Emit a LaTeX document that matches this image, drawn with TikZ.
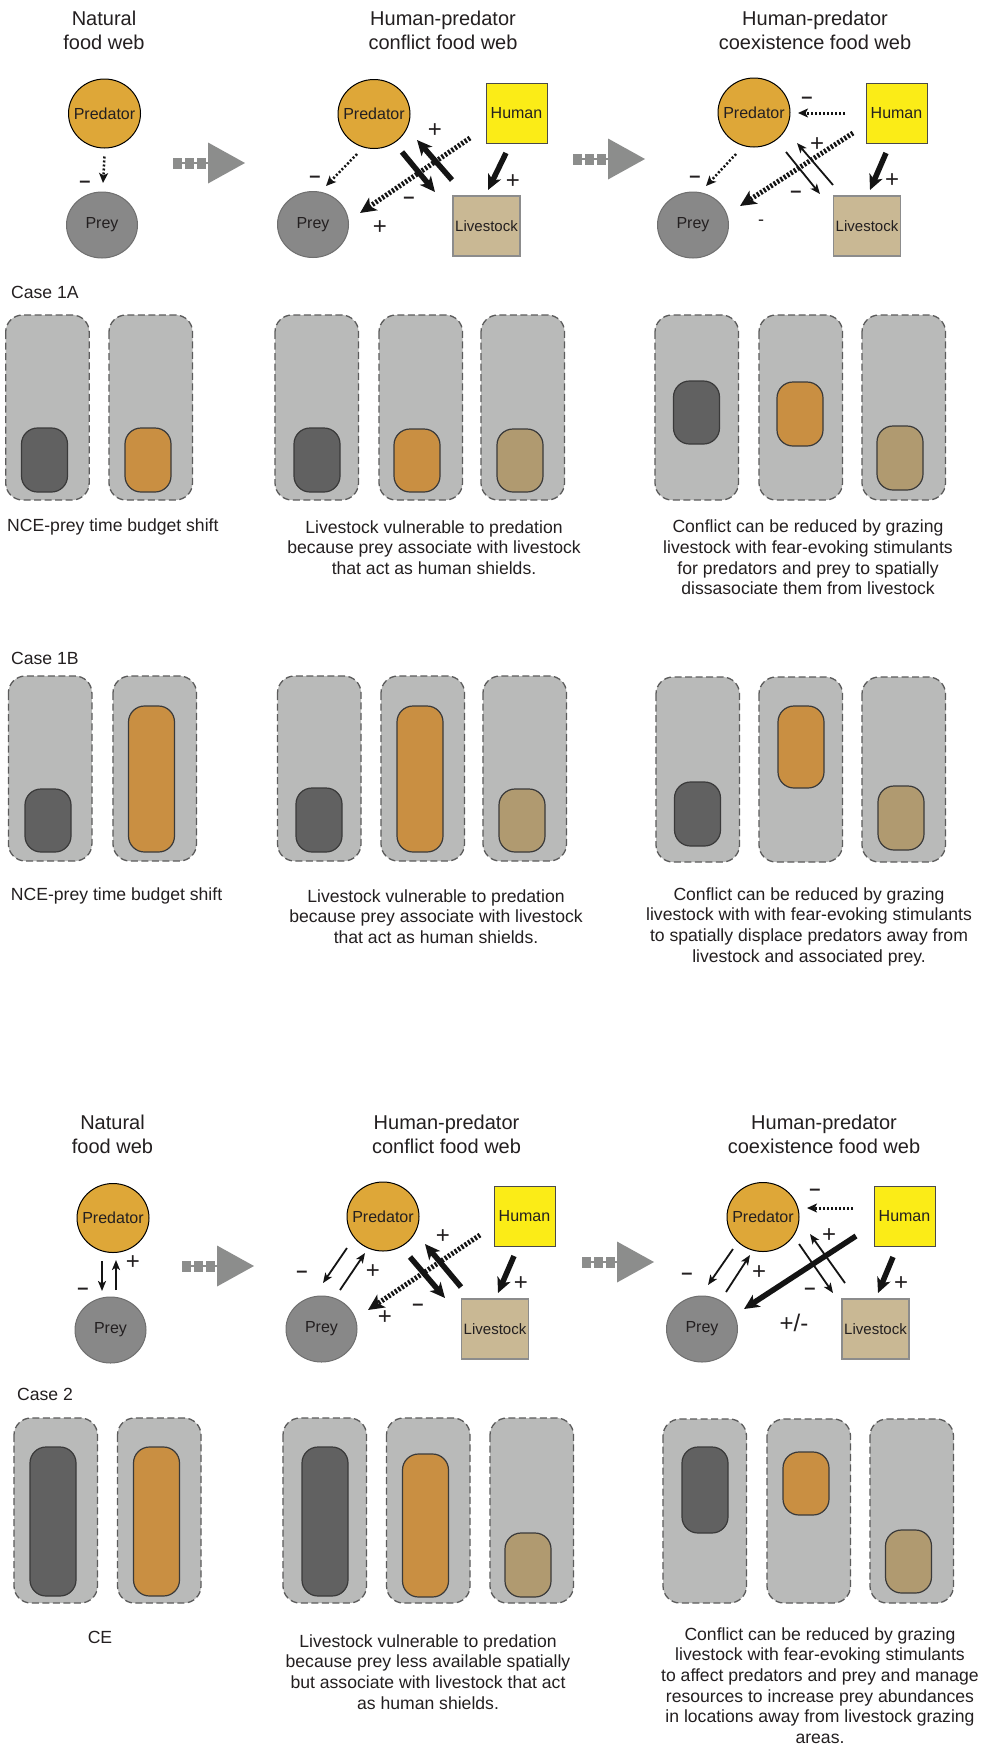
\documentclass[tikz,border=0pt]{standalone}
\usepackage{fontspec}
\setmainfont{Liberation Sans}
\usetikzlibrary{arrows.meta,shapes.geometric}
\definecolor{predc}{HTML}{DEA738}
\definecolor{preyc}{HTML}{888888}
\definecolor{preyb}{HTML}{6F6F6F}
\definecolor{humc}{HTML}{FBEC17}
\definecolor{humb}{HTML}{4A4A4A}
\definecolor{livec}{HTML}{C9B894}
\definecolor{liveb}{HTML}{8C8C8C}
\definecolor{transc}{HTML}{8C8D8C}
\definecolor{panelc}{HTML}{B9BAB9}
\definecolor{panelb}{HTML}{5C5C5C}
\definecolor{darkc}{HTML}{616161}
\definecolor{orc}{HTML}{C98F42}
\definecolor{tanc}{HTML}{B09A70}
\definecolor{barb}{HTML}{3A3A3A}
\definecolor{txtc}{HTML}{231F20}
\definecolor{arrc}{HTML}{141414}
\newcommand\pnl[3]{\path[panelsty] (#1,#2) rectangle (#1+83.5,#3);}
\newcommand\bardraw[4]{\path[barsty,fill=#4] (#1,#2) rectangle (#1+46,#3);}
\newcommand\transarrow[2]{%
  \fill[transc] (#1+35,#2-20.5) -- (#1+72,#2) -- (#1+35,#2+20.5) -- cycle;
  \draw[transc, line width=1.2pt] (#1,#2) -- (#1+35,#2);
  \draw[transc, line width=11pt, dash pattern=on 9pt off 3pt] (#1,#2) -- (#1+33,#2);}
\begin{document}
\begin{tikzpicture}[x=1pt,y=-1pt,
  every node/.style={text=txtc},
  prednode/.style={ellipse, draw=black, line width=1pt, fill=predc, minimum width=72pt, minimum height=69pt, inner xsep=-14pt, inner ysep=0pt, font=\fontsize{16}{19}\selectfont},
  preynode/.style={ellipse, draw=preyb, line width=1pt, fill=preyc, minimum width=71pt, minimum height=66pt, inner xsep=-4pt, inner ysep=0pt, font=\fontsize{16}{19}\selectfont},
  humnode/.style={rectangle, draw=humb, line width=1pt, fill=humc, minimum width=61pt, minimum height=60pt, inner sep=0pt, font=\fontsize{16}{19}\selectfont},
  livenode/.style={rectangle, draw=liveb, line width=1.2pt, fill=livec, minimum width=67pt, minimum height=60pt, inner sep=0pt, font=\fontsize{15}{18}\selectfont},
  title/.style={align=center, inner sep=0pt, font=\fontsize{20}{24}\selectfont},
  body/.style={align=center, inner sep=0pt, font=\fontsize{17.6}{20.7}\selectfont},
  lbl/.style={inner sep=0pt, font=\fontsize{17.6}{20.7}\selectfont},
  sgn/.style={inner sep=0pt, font=\fontsize{24}{26}\selectfont},
  msgn/.style={inner sep=0pt, font=\bfseries\fontsize{20}{22}\selectfont},
  thk/.style={draw=arrc, line width=5.5pt, -{Stealth[length=15pt,width=14pt,inset=4pt]}},
  thn/.style={draw=arrc, line width=1.8pt, -{Stealth[length=10pt,width=8pt,inset=2.5pt]}},
  dotthn/.style={draw=arrc, line width=2.5pt, dash pattern=on 2pt off 2pt, -{Stealth[length=10pt,width=9pt,inset=2.5pt]}},
  dotthk/.style={draw=arrc, line width=5pt, dash pattern=on 2.2pt off 1.8pt, -{Stealth[length=16pt,width=15pt,inset=4pt]}},
  panelsty/.style={fill=panelc, draw=panelb, line width=1.3pt, dash pattern=on 7pt off 3.5pt, rounded corners=17pt},
  barsty/.style={draw=barb, line width=1.2pt, rounded corners=16pt}
]
\useasboundingbox (0,0) rectangle (992,1748);
\fill[white] (0,0) rectangle (992,1748);

% ===== Top food webs =====
\node[title] (t1) at (104,30) {Natural\\food web};
\node[title] (t2) at (443,30) {Human-predator\\conflict food web};
\node[title] (t3) at (815,30) {Human-predator\\coexistence food web};

\node[prednode] (pred1) at (104.5,113.5) {Predator};
\node[preynode] (prey1) at (102,225) {Prey};
\draw[dotthn] ([shift={(0,43)}]pred1.center) -- ([shift={(1,-42)}]prey1.center);
\node[msgn] (s1) at (85,184) {–};

\transarrow{173}{163}

\node[prednode] (pred2) at (374,114) {Predator};
\node[humnode] (human2) at (516.5,113) {Human};
\node[livenode] (live2) at (486.5,226) {Livestock};
\node[preynode] (prey2) at (313,224.5) {Prey};
\draw[dotthn] ([shift={(-17,40)}]pred2.center) -- ([shift={(13,-38.5)}]prey2.center);
\draw[thk] ([shift={(28,38)}]pred2.center) -- ([shift={(-51.5,-34)}]live2.center);
\draw[thk] ([shift={(-34.5,-46)}]live2.center) -- ([shift={(43,26)}]pred2.center);
\draw[dotthk] ([shift={(-46.5,25)}]human2.center) -- ([shift={(47,-11.5)}]prey2.center);
\draw[thk] ([shift={(-10.5,40)}]human2.center) -- ([shift={(1.5,-36)}]live2.center);
\node[msgn] (s2) at (315,179) {–};
\node[msgn] (s3) at (409,200) {–};
\node[sgn] (s4) at (435,131) {+};
\node[sgn] (s5) at (380,228) {+};
\node[sgn] (s6) at (513,182) {+};

\transarrow{573}{159}

\node[prednode] (pred3) at (754,112.5) {Predator};
\node[humnode] (human3) at (896.5,113) {Human};
\node[livenode] (live3) at (867,226) {Livestock};
\node[preynode] (prey3) at (693,225) {Prey};
\draw[dotthn, line width=3pt] ([shift={(-51.5,0)}]human3.center) -- ([shift={(44,0.5)}]pred3.center);
\draw[dotthn] ([shift={(-18,41.5)}]pred3.center) -- ([shift={(13,-39)}]prey3.center);
\draw[thn] ([shift={(32,39.5)}]pred3.center) -- ([shift={(-47,-32)}]live3.center);
\draw[thn] ([shift={(-34,-41)}]live3.center) -- ([shift={(43,30.5)}]pred3.center);
\draw[dotthk] ([shift={(-43.5,20)}]human3.center) -- ([shift={(47,-19)}]prey3.center);
\draw[thk] ([shift={(-10.5,40)}]human3.center) -- ([shift={(3,-36)}]live3.center);
\node[msgn] (s7) at (807,100) {–};
\node[msgn] (s8) at (695,179) {–};
\node[msgn] (s9) at (796,194) {–};
\node[sgn] (s10) at (817,145) {+};
\node[sgn, font=\fontsize{18}{20}\selectfont] (s11) at (761,223) {-};
\node[sgn] (s12) at (892,181) {+};

% ===== Case 1A =====
\node[lbl, anchor=west] (c1a) at (11,292) {Case 1A};
\pnl{5.7}{315}{500} \pnl{109}{315}{500} \pnl{275}{315}{500} \pnl{379}{315}{500} \pnl{481}{315}{500}
\pnl{655}{315}{500} \pnl{759}{315}{500} \pnl{862}{315}{500}
\bardraw{21.5}{428}{492}{darkc}
\bardraw{125}{428}{492}{orc}
\bardraw{294}{428}{492}{darkc}
\bardraw{394}{429}{492}{orc}
\bardraw{497}{429}{492}{tanc}
\bardraw{673.5}{381}{444}{darkc}
\bardraw{777}{382}{446}{orc}
\bardraw{877}{426}{490}{tanc}
\node[lbl, anchor=west] (n1a) at (7,527) {NCE-prey time budget shift};
\node[body] (m1a) at (434,547.5) {Livestock vulnerable to predation\\because prey associate with livestock\\that act as human shields.};
\node[body] (r1a) at (808,557.5) {Conflict can be reduced by grazing\\livestock with fear-evoking stimulants\\for predators and prey to spatially\\dissasociate them from livestock};

% ===== Case 1B =====
\node[lbl, anchor=west] (c1b) at (11,658) {Case 1B};
\pnl{8.4}{676}{861} \pnl{113}{676}{861} \pnl{277.5}{676}{861} \pnl{381}{676}{861} \pnl{483}{676}{861}
\pnl{656}{677}{862} \pnl{759}{677}{862} \pnl{862}{677}{862}
\bardraw{25}{789}{852}{darkc}
\bardraw{128.5}{706}{852}{orc}
\bardraw{296}{788}{852}{darkc}
\bardraw{397}{706}{852}{orc}
\bardraw{499}{789}{852}{tanc}
\bardraw{674.5}{782}{846}{darkc}
\bardraw{778}{706}{788}{orc}
\bardraw{878}{786}{850}{tanc}
\node[lbl, anchor=west] (n1b) at (10.7,896) {NCE-prey time budget shift};
\node[body] (m1b) at (436,916.5) {Livestock vulnerable to predation\\because prey associate with livestock\\that act as human shields.};
\node[body] (r1b) at (809,926.5) {Conflict can be reduced by grazing\\livestock with with fear-evoking stimulants\\to spatially displace predators away from\\livestock and associated prey.};

% ===== Bottom food webs =====
\node[title] (t4) at (112.5,1134) {Natural\\food web};
\node[title] (t5) at (446.5,1134) {Human-predator\\conflict food web};
\node[title] (t6) at (824,1134) {Human-predator\\coexistence food web};

\node[prednode] (pred4) at (113,1218) {Predator};
\node[preynode] (prey4) at (110.5,1330) {Prey};
\draw[thn] ([shift={(-11,43)}]pred4.center) -- ([shift={(-8.5,-39)}]prey4.center);
\draw[thn] ([shift={(5.5,-40)}]prey4.center) -- ([shift={(3,42)}]pred4.center);
\node[msgn] (s13) at (83,1291) {–};
\node[sgn] (s14) at (133,1263) {+};

\transarrow{182}{1266}

\node[prednode] (pred5) at (383,1216.5) {Predator};
\node[humnode] (human5) at (524.5,1216.5) {Human};
\node[livenode] (live5) at (495,1329) {Livestock};
\node[preynode] (prey5) at (321.5,1329) {Prey};
\draw[thn] ([shift={(-36,31.5)}]pred5.center) -- ([shift={(1.5,-46)}]prey5.center);
\draw[thn] ([shift={(18.5,-39)}]prey5.center) -- ([shift={(-18,36.5)}]pred5.center);
\draw[thk] ([shift={(27,40.5)}]pred5.center) -- ([shift={(-50,-31)}]live5.center);
\draw[thk] ([shift={(-34,-42)}]live5.center) -- ([shift={(42,27.5)}]pred5.center);
\draw[dotthk] ([shift={(-44.5,18.5)}]human5.center) -- ([shift={(46.5,-19)}]prey5.center);
\draw[thk] ([shift={(-10.5,39.5)}]human5.center) -- ([shift={(3,-36)}]live5.center);
\node[msgn] (s15) at (302,1274) {–};
\node[sgn] (s16) at (373,1272) {+};
\node[msgn] (s17) at (418,1307) {–};
\node[sgn] (s18) at (443,1237) {+};
\node[sgn] (s19) at (385,1318) {+};
\node[sgn] (s20) at (521,1284) {+};

\transarrow{582}{1262}

\node[prednode] (pred6) at (763,1217) {Predator};
\node[humnode] (human6) at (904.5,1216.5) {Human};
\node[livenode] (live6) at (875.5,1329) {Livestock};
\node[preynode] (prey6) at (702,1329) {Prey};
\draw[dotthn, line width=3pt] ([shift={(-51.5,-8.5)}]human6.center) -- ([shift={(44,-9)}]pred6.center);
\draw[thn] ([shift={(-30,32)}]pred6.center) -- ([shift={(6,-44)}]prey6.center);
\draw[thn] ([shift={(24,-37)}]prey6.center) -- ([shift={(-13,38)}]pred6.center);
\draw[thn] ([shift={(36,27)}]pred6.center) -- ([shift={(-42.5,-36)}]live6.center);
\draw[thn] ([shift={(-30.5,-46)}]live6.center) -- ([shift={(47,17)}]pred6.center);
\draw[thk] ([shift={(-48.5,19.5)}]human6.center) -- ([shift={(42,-20)}]prey6.center);
\draw[thk] ([shift={(-11.5,40.5)}]human6.center) -- ([shift={(2.5,-36)}]live6.center);
\node[msgn] (s21) at (815,1192) {–};
\node[msgn] (s22) at (687,1276) {–};
\node[sgn] (s23) at (759,1273) {+};
\node[msgn] (s24) at (810,1291) {–};
\node[sgn] (s25) at (829,1236) {+};
\node[sgn] (s26) at (794,1323) {+/-};
\node[sgn] (s27) at (901,1284) {+};

% ===== Case 2 =====
\node[lbl, anchor=west] (c2) at (17,1394) {Case 2};
\pnl{14}{1418}{1603} \pnl{117.5}{1418}{1603} \pnl{283}{1418}{1603} \pnl{386.5}{1418}{1603} \pnl{490}{1418}{1603}
\pnl{663}{1419}{1603} \pnl{767}{1419}{1603} \pnl{870}{1419}{1603}
\bardraw{30}{1447}{1596}{darkc}
\bardraw{133.5}{1447}{1596}{orc}
\bardraw{302}{1447}{1596}{darkc}
\bardraw{402.5}{1454}{1597}{orc}
\bardraw{505}{1533}{1597}{tanc}
\bardraw{682}{1447}{1533}{darkc}
\bardraw{783}{1452}{1515}{orc}
\bardraw{885.5}{1530}{1593}{tanc}
\node[lbl] (ce) at (100,1637) {CE};
\node[body] (m2) at (428,1672) {Livestock vulnerable to predation\\because prey less available spatially\\but associate with livestock that act\\as human shields.};
\node[body] (r2) at (820,1685.5) {Conflict can be reduced by grazing\\livestock with fear-evoking stimulants\\to affect predators and prey and manage\\resources to increase prey abundances\\in locations away from livestock grazing\\areas.};
\end{tikzpicture}
\end{document}
